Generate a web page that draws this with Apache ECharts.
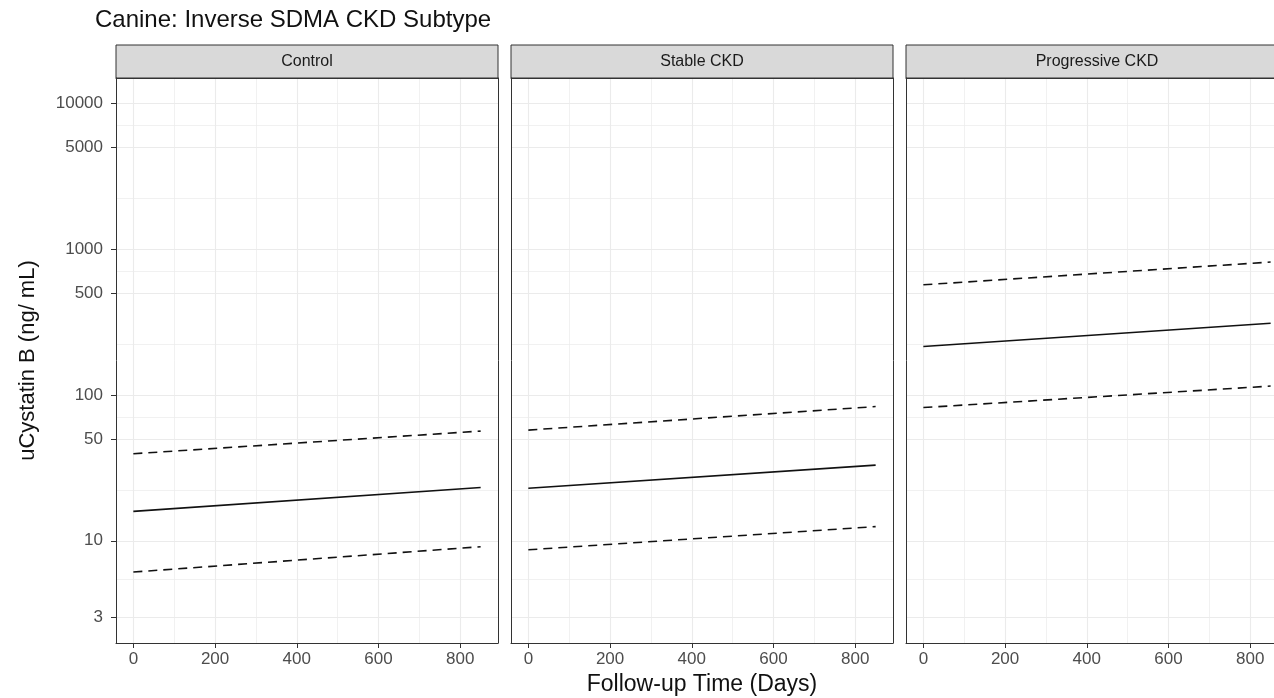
<!DOCTYPE html>
<html>
<head>
<meta charset="utf-8">
<title>Canine: Inverse SDMA CKD Subtype</title>
<script src="https://cdn.jsdelivr.net/npm/echarts@6/dist/echarts.min.js"></script>
<style>
  html, body { margin: 0; padding: 0; background: #fff; }
  #chart { width: 1274px; height: 698px; }
</style>
</head>
<body>
<div id="chart"></div>
<script>
// facet panels
const panels = ['Control', 'Stable CKD', 'Progressive CKD']
// follow-up days where the curves start / end
const days = [0, 850]
// uCystatin B (ng/mL): fitted curve and dashed limits, one pair per panel
const fit = [[15.9, 23.2], [22.9, 33.0], [215, 310]]
const upper = [[39.5, 56.5], [57.4, 83.2], [569, 815]]
const lower = [[6.1, 9.1], [8.67, 12.5], [81.9, 115]]
// axis breaks
const xBreaks = [0, 200, 400, 600, 800]
const xMinor = [100, 300, 500, 700]
const yBreaks = [3, 10, 50, 100, 500, 1000, 5000, 10000]
const yMinor = [5.48, 22.36, 70.71, 223.6, 707.1, 2236, 7071]

const FONT = '"Liberation Sans", Arial, sans-serif'
const PANEL_LEFT = [116, 511, 906]
const PANEL_W = 382
const PANEL_TOP = 78
const PANEL_H = 565
const STRIP_H = 33
const X_MIN = -42.5
const X_MAX = 892.5
const Y_MIN = 1.99
const Y_MAX = 14900

const chart = echarts.init(document.getElementById('chart'), null, { renderer: 'canvas' })

const grid = []
const xAxis = []
const yAxis = []
const series = []
const graphic = []

const border = { show: true, onZero: false, lineStyle: { color: '#333333', width: 1 } }
const majorGrid = { show: true, lineStyle: { color: '#ebebeb', width: 1.1 } }
const minorGrid = { show: true, lineStyle: { color: '#ebebeb', width: 0.7 } }

panels.forEach((name, i) => {
  grid.push({
    left: PANEL_LEFT[i],
    top: PANEL_TOP,
    width: PANEL_W,
    height: PANEL_H,
    containLabel: false,
    outerBoundsMode: 'none'
  })

  // major x axis (bottom) + minor x axis (top border)
  xAxis.push({
    type: 'value',
    gridIndex: i,
    min: X_MIN,
    max: X_MAX,
    position: 'bottom',
    name: i === 1 ? 'Follow-up Time (Days)' : '',
    nameLocation: 'middle',
    nameGap: 28,
    nameTextStyle: { fontFamily: FONT, fontSize: 23, color: '#111' },
    axisLine: border,
    axisTick: { show: true, length: 5, customValues: xBreaks, lineStyle: { color: '#333333' } },
    axisLabel: { customValues: xBreaks, margin: 8, color: '#4d4d4d', fontSize: 17, fontFamily: FONT },
    splitLine: majorGrid
  })
  xAxis.push({
    type: 'value',
    gridIndex: i,
    min: X_MIN,
    max: X_MAX,
    position: 'top',
    axisLine: border,
    axisTick: { show: false, customValues: xMinor },
    axisLabel: { show: false },
    splitLine: minorGrid
  })

  // major y axis (left) + minor y axis (right border)
  yAxis.push({
    type: 'log',
    gridIndex: i,
    min: Y_MIN,
    max: Y_MAX,
    position: 'left',
    name: i === 0 ? 'uCystatin B (ng/ mL)' : '',
    nameLocation: 'middle',
    nameGap: 77,
    nameTextStyle: { fontFamily: FONT, fontSize: 22, color: '#111' },
    axisLine: border,
    axisTick: { show: i === 0, length: 5, customValues: yBreaks, lineStyle: { color: '#333333' } },
    axisLabel: {
      show: i === 0,
      customValues: yBreaks,
      margin: 13,
      color: '#4d4d4d',
      fontSize: 17,
      fontFamily: FONT,
      formatter: v => String(Math.round(v))
    },
    splitLine: majorGrid
  })
  yAxis.push({
    type: 'log',
    gridIndex: i,
    min: Y_MIN,
    max: Y_MAX,
    position: 'right',
    axisLine: border,
    axisTick: { show: false, customValues: yMinor },
    axisLabel: { show: false },
    splitLine: minorGrid
  })

  const lines = [[upper[i], 'dash'], [fit[i], 'solid'], [lower[i], 'dash']]
  lines.forEach(([vals, kind]) => {
    series.push({
      type: 'line',
      xAxisIndex: i * 2,
      yAxisIndex: i * 2,
      data: days.map((d, k) => [d, vals[k]]),
      symbol: 'none',
      silent: true,
      lineStyle: { color: '#111', width: 1.6, type: kind === 'dash' ? [9, 6] : 'solid' }
    })
  })

  // facet strip
  graphic.push({
    type: 'rect',
    silent: true,
    shape: { x: PANEL_LEFT[i], y: PANEL_TOP - STRIP_H, width: PANEL_W, height: STRIP_H },
    style: { fill: '#d9d9d9', stroke: '#333333', lineWidth: 1 }
  })
  graphic.push({
    type: 'text',
    silent: true,
    x: PANEL_LEFT[i] + PANEL_W / 2,
    y: PANEL_TOP - STRIP_H / 2,
    style: {
      text: name,
      fill: '#1a1a1a',
      font: '16px ' + FONT,
      textAlign: 'center',
      textVerticalAlign: 'middle',
      align: 'center',
      verticalAlign: 'middle'
    }
  })
})

chart.setOption({
  animation: false,
  backgroundColor: '#fff',
  title: {
    text: 'Canine: Inverse SDMA CKD Subtype',
    left: 95,
    top: 8,
    padding: 0,
    textStyle: { fontFamily: FONT, fontSize: 24, fontWeight: 'normal', color: '#111' }
  },
  grid,
  xAxis,
  yAxis,
  series,
  graphic
})
</script>
</body>
</html>
